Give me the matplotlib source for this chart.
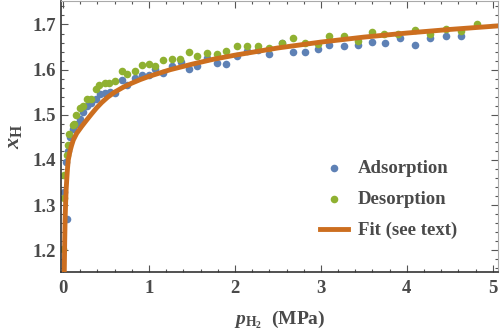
import numpy as np
import matplotlib
matplotlib.use("Agg")
import matplotlib.pyplot as plt
from matplotlib.ticker import MultipleLocator

# --- data ---
ads_p = [0.01, 0.045, 0.035, 0.06, 0.08, 0.116, 0.16, 0.198, 0.233, 0.279, 0.326, 0.384,
         0.43, 0.488, 0.547, 0.605, 0.686, 0.744, 0.837, 0.919, 1.0, 1.07, 1.163, 1.267,
         1.37, 1.465, 1.558, 1.674, 1.79, 1.895, 2.02, 2.14, 2.27, 2.40, 2.55, 2.67, 2.81,
         2.97, 3.10, 3.27, 3.43, 3.59, 3.74, 3.92, 4.09, 4.27, 4.45, 4.63]
ads_x = [1.33, 1.27, 1.395, 1.42, 1.45, 1.469, 1.48, 1.491, 1.507, 1.52, 1.525, 1.536,
         1.547, 1.549, 1.551, 1.549, 1.576, 1.567, 1.582, 1.589, 1.589, 1.602, 1.593, 1.609,
         1.616, 1.602, 1.607, 1.625, 1.615, 1.613, 1.631, 1.642, 1.644, 1.634, 1.658, 1.638, 1.640,
         1.646, 1.655, 1.653, 1.655, 1.662, 1.658, 1.669, 1.655, 1.669, 1.674, 1.674]

des_p = [0.0, 0.012, 0.012, 0.047, 0.058, 0.07, 0.116, 0.128, 0.151, 0.198, 0.233, 0.279,
         0.326, 0.384, 0.419, 0.488, 0.535, 0.605, 0.686, 0.744, 0.837, 0.919, 1.0, 1.07,
         1.163, 1.267, 1.36, 1.465, 1.558, 1.674, 1.79, 1.895, 2.02, 2.14, 2.27, 2.40, 2.55,
         2.67, 2.81, 2.97, 3.10, 3.27, 3.43, 3.59, 3.73, 3.90, 4.09, 4.27, 4.45, 4.63, 4.81]
des_x = [1.202, 1.316, 1.367, 1.411, 1.433, 1.457, 1.477, 1.48, 1.50, 1.514, 1.52, 1.535,
         1.535, 1.557, 1.566, 1.571, 1.571, 1.575, 1.598, 1.59, 1.597, 1.611, 1.613, 1.609,
         1.622, 1.624, 1.624, 1.64, 1.631, 1.636, 1.634, 1.642, 1.653, 1.653, 1.653, 1.648, 1.66,
         1.669, 1.66, 1.656, 1.675, 1.675, 1.664, 1.683, 1.678, 1.68, 1.687, 1.678, 1.689, 1.685, 1.70]

fit_p = [0.015, 0.02, 0.025, 0.03, 0.037, 0.045, 0.053, 0.062, 0.08, 0.1, 0.12, 0.16,
         0.217, 0.27, 0.333, 0.39, 0.45, 0.52, 0.6, 0.7, 0.8, 0.9, 1.0, 1.25, 1.5, 1.75,
         2.0, 2.5, 3.0, 3.5, 4.0, 4.5, 5.07]
fit_x = [1.15, 1.22, 1.27, 1.30, 1.335, 1.36, 1.382, 1.40, 1.418, 1.432, 1.444, 1.459,
         1.474, 1.487, 1.502, 1.515, 1.527, 1.539, 1.55, 1.561, 1.570, 1.578, 1.585, 1.600,
         1.612, 1.623, 1.632, 1.648, 1.661, 1.672, 1.681, 1.689, 1.697]

BLUE = '#5E81B5'
GREEN = '#8FB131'
ORANGE = '#CC6E1F'
TXT = '#4a4a4a'

plt.rcParams['font.family'] = ['Liberation Serif', 'DejaVu Serif']
plt.rcParams['font.weight'] = 'bold'
plt.rcParams['mathtext.fontset'] = 'custom'
plt.rcParams['mathtext.rm'] = 'Liberation Serif:bold'
plt.rcParams['mathtext.it'] = 'Liberation Serif:bold:italic'
plt.rcParams['mathtext.bf'] = 'Liberation Serif:bold'

fig = plt.figure(figsize=(5, 3.34), dpi=100)
ax = fig.add_axes([0.122, 0.186, 0.874, 0.811])

ax.scatter(ads_p, ads_x, s=30, color=BLUE, lw=0, label='Adsorption', zorder=2)
ax.scatter(des_p, des_x, s=30, color=GREEN, lw=0, label='Desorption', zorder=2)
ax.plot(fit_p, fit_x, color=ORANGE, lw=3.5, label='Fit (see text)', zorder=3,
        solid_joinstyle='round')

ax.set_xlim(-0.023, 5.06)
ax.set_ylim(1.152, 1.752)

ax.xaxis.set_major_locator(MultipleLocator(1))
ax.xaxis.set_minor_locator(MultipleLocator(0.2))
ax.yaxis.set_major_locator(MultipleLocator(0.1))
ax.yaxis.set_minor_locator(MultipleLocator(0.02))
ax.yaxis.set_major_formatter(plt.FuncFormatter(lambda v, _: f"{v:.1f}"))
ax.tick_params(which='both', direction='in', top=True, right=True, colors='#555555',
               labelcolor=TXT, labelsize=13.5, width=0.8)
ax.tick_params(which='major', length=5)
ax.tick_params(which='minor', length=2.5)
ax.tick_params(axis='x', pad=6)
for lab in ax.get_xticklabels() + ax.get_yticklabels():
    lab.set_fontweight('bold')

for s in ['left', 'bottom']:
    ax.spines[s].set_color('#333333')
    ax.spines[s].set_linewidth(1.2)
for s in ['top', 'right']:
    ax.spines[s].set_color('#aaaaaa')
    ax.spines[s].set_linewidth(0.8)

ax.set_xlabel(r'$p_{\mathrm{H}_2}$  (MPa)', fontsize=14, color=TXT, labelpad=8,
              fontweight='bold')
ax.set_ylabel(r'$x_{\mathrm{H}}$', fontsize=16, color=TXT, labelpad=6)

leg = ax.legend(loc='lower right', bbox_to_anchor=(0.945, 0.058), frameon=False,
                prop={'size': 13.5, 'weight': 'bold'}, handlelength=1.5,
                handletextpad=0.5, labelspacing=0.75, markerscale=1.0)
for t in leg.get_texts():
    t.set_color(TXT)

fig.savefig('out.png', dpi=100)
